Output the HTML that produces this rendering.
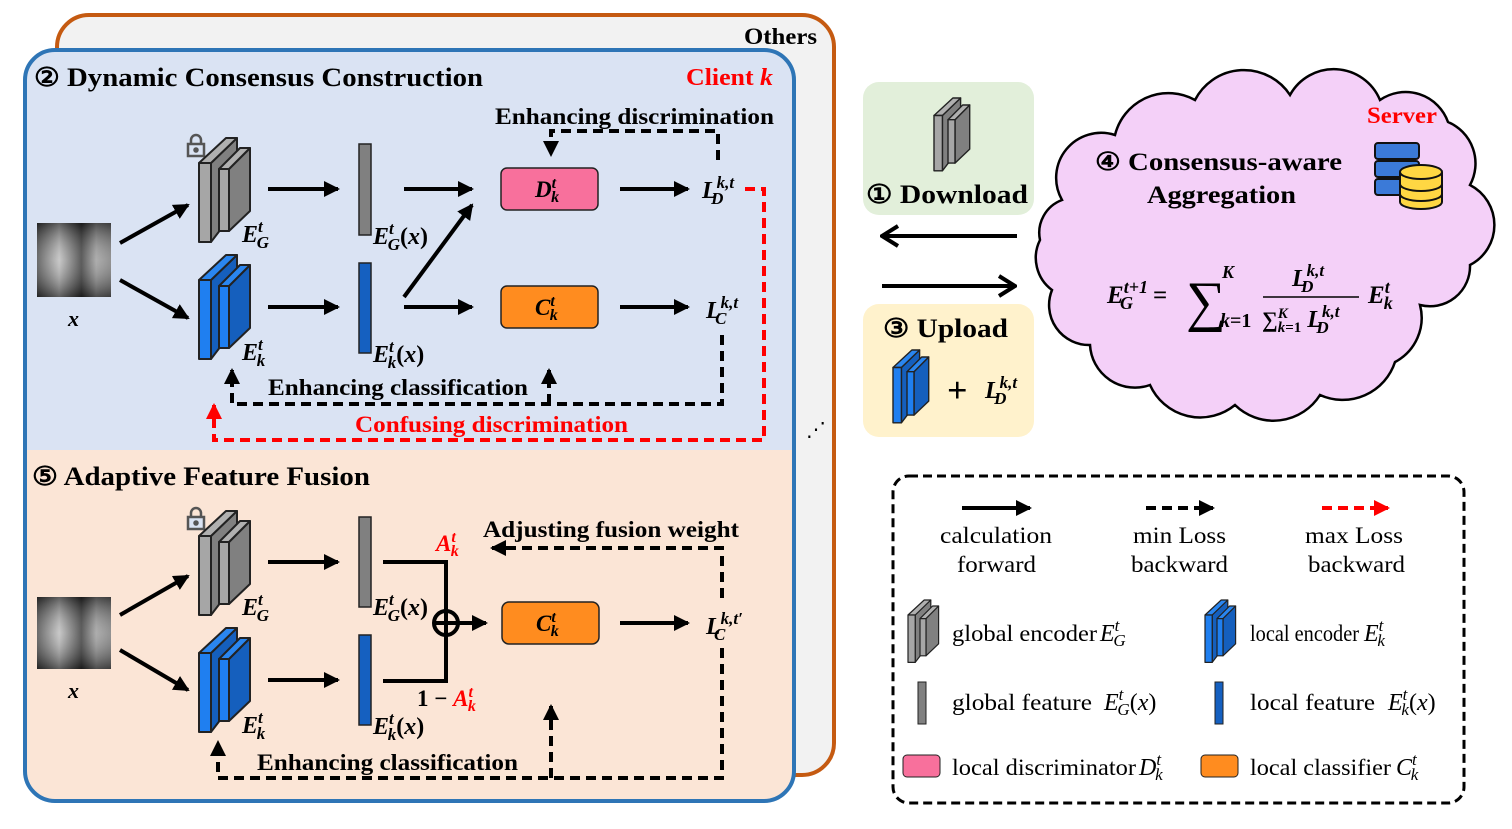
<!DOCTYPE html>
<html><head><meta charset="utf-8"><style>
html,body{margin:0;padding:0;background:#fff;}
svg{display:block;}
text{font-family:"Liberation Serif",serif;}
.b{font-weight:bold;}
.m{font-weight:bold;font-style:italic;}
</style></head><body>
<svg width="1512" height="829" viewBox="0 0 1512 829" xmlns="http://www.w3.org/2000/svg">
<defs>
<marker id="ahb" markerWidth="16" markerHeight="16" refX="14" refY="8" orient="auto" markerUnits="userSpaceOnUse"><path d="M0,0 L16,8 L0,16 Z" fill="#000"/></marker>
<marker id="ahr" markerWidth="16" markerHeight="16" refX="14" refY="8" orient="auto" markerUnits="userSpaceOnUse"><path d="M0,0 L16,8 L0,16 Z" fill="#f00"/></marker>
<marker id="chev" markerWidth="20" markerHeight="24" refX="18" refY="12" orient="auto" markerUnits="userSpaceOnUse"><path d="M2,2 L18,12 L2,22" fill="none" stroke="#000" stroke-width="4"/></marker>
<g id="encG" stroke="#222" stroke-width="2" stroke-linejoin="round">
<polygon points="12,25 38,0 38,70 12,104" fill="#808080"/>
<polygon points="0,25 27,0 38,0 12,25" fill="#b0b0b0"/>
<rect x="0" y="25" width="12" height="79" fill="#a6a6a6"/>
<polygon points="30,31 51,10 51,73 30,93" fill="#808080"/>
<polygon points="20,31 41,10 51,10 30,31" fill="#b0b0b0"/>
<rect x="20" y="31" width="10" height="62" fill="#a6a6a6"/>
</g>
<g id="encB" stroke="#222" stroke-width="2" stroke-linejoin="round">
<polygon points="12,25 38,0 38,70 12,104" fill="#155fbd"/>
<polygon points="0,25 27,0 38,0 12,25" fill="#2a86f0"/>
<rect x="0" y="25" width="12" height="79" fill="#1f7ff0"/>
<polygon points="30,31 51,10 51,73 30,93" fill="#155fbd"/>
<polygon points="20,31 41,10 51,10 30,31" fill="#2a86f0"/>
<rect x="20" y="31" width="10" height="62" fill="#1f7ff0"/>
</g>
<g id="lock" fill="none" stroke="#555" stroke-width="2.5"><path d="M4,10 V6 a5,5 0 0 1 10,0 V10"/><rect x="1" y="10" width="16" height="12" fill="#dae3f3"/><circle cx="9" cy="16" r="1.5" fill="#555"/></g>
<linearGradient id="img" x1="0" x2="1"><stop offset="0" stop-color="#444"/><stop offset=".3" stop-color="#bbb"/><stop offset=".6" stop-color="#333"/><stop offset=".8" stop-color="#999"/><stop offset="1" stop-color="#777"/></linearGradient>
<linearGradient id="imgv" x1="0" y1="0" x2="0" y2="1"><stop offset="0" stop-color="#000" stop-opacity=".5"/><stop offset=".5" stop-color="#fff" stop-opacity=".2"/><stop offset="1" stop-color="#000" stop-opacity=".5"/></linearGradient>
</defs>

<rect x="57" y="15" width="777" height="760" rx="32" fill="#f2f2f2" stroke="#c55a11" stroke-width="4"/>
<text x="744" y="44" class="b" font-size="23" textLength="73" lengthAdjust="spacingAndGlyphs">Others</text>
<text x="806" y="436" font-size="20">⋰</text>

<rect x="25" y="50" width="769" height="751" rx="30" fill="#fbe5d6"/>
<path d="M25,450 V80 a30,30 0 0 1 30,-30 H764 a30,30 0 0 1 30,30 V450 Z" fill="#dae3f3"/>
<rect x="25" y="50" width="769" height="751" rx="30" fill="none" stroke="#2e75b6" stroke-width="4"/>

<text x="34" y="86" class="b" font-size="26" textLength="449" lengthAdjust="spacingAndGlyphs">② Dynamic Consensus Construction</text>
<text x="686" y="85" class="b" font-size="24" fill="#f00" textLength="87" lengthAdjust="spacingAndGlyphs">Client <tspan font-style="italic">k</tspan></text>

<!-- top -->
<rect x="37" y="223" width="74" height="74" fill="url(#img)"/>
<rect x="37" y="223" width="74" height="74" fill="url(#imgv)"/>
<text x="68" y="326" class="m" font-size="22">x</text>
<use href="#lock" x="187" y="134"/>
<use href="#encG" x="199" y="138"/>
<use href="#encB" x="199" y="255"/>
<g stroke="#000" stroke-width="4" marker-end="url(#ahb)">
<line x1="120" y1="243" x2="188" y2="205"/>
<line x1="120" y1="280" x2="188" y2="318"/>
<line x1="268" y1="189" x2="338" y2="189"/>
<line x1="268" y1="307" x2="338" y2="307"/>
<line x1="404" y1="189" x2="472" y2="189"/>
<line x1="404" y1="297" x2="472" y2="205"/>
<line x1="404" y1="307" x2="472" y2="307"/>
<line x1="620" y1="189" x2="688" y2="189"/>
<line x1="620" y1="307" x2="688" y2="307"/>
</g>
<rect x="359" y="144" width="12" height="91" fill="#808080" stroke="#222" stroke-width="1.5"/>
<rect x="359" y="263" width="12" height="90" fill="#1560c0" stroke="#222" stroke-width="1.5"/>
<text x="242" y="242" class="m" font-size="24">E<tspan dy="-10" font-size="17">t</tspan><tspan dx="-6" dy="16" font-size="17">G</tspan></text>
<text x="242" y="360" class="m" font-size="24">E<tspan dy="-10" font-size="17">t</tspan><tspan dx="-6" dy="16" font-size="17">k</tspan></text>
<text x="373" y="244" class="m" font-size="24">E<tspan dy="-10" font-size="17">t</tspan><tspan dx="-6" dy="16" font-size="17">G</tspan><tspan dy="-6" font-style="normal">(</tspan>x<tspan font-style="normal">)</tspan></text>
<text x="373" y="362" class="m" font-size="24">E<tspan dy="-10" font-size="17">t</tspan><tspan dx="-6" dy="16" font-size="17">k</tspan><tspan dy="-6" font-style="normal">(</tspan>x<tspan font-style="normal">)</tspan></text>
<rect x="501" y="168" width="97" height="42" rx="6" fill="#f8709c" stroke="#222" stroke-width="1.5"/>
<text x="535" y="197" class="m" font-size="23">D<tspan dy="-9" font-size="16">t</tspan><tspan dx="-5" dy="14" font-size="16">k</tspan></text>
<rect x="501" y="286" width="97" height="42" rx="6" fill="#ff8c1f" stroke="#222" stroke-width="1.5"/>
<text x="535" y="315" class="m" font-size="23">C<tspan dy="-9" font-size="16">t</tspan><tspan dx="-5" dy="14" font-size="16">k</tspan></text>
<text x="702" y="198" class="m" font-size="24">L<tspan dy="-10" font-size="17">k,t</tspan><tspan dx="-23" dy="16" font-size="17">D</tspan></text>
<text x="706" y="318" class="m" font-size="24">L<tspan dy="-10" font-size="17">k,t</tspan><tspan dx="-23" dy="16" font-size="17">C</tspan></text>

<g fill="none" stroke="#000" stroke-width="4" stroke-dasharray="10,6">
<path d="M718,160 V131 H551 V155" marker-end="url(#ahb)"/>
<path d="M722,335 V404 H232 V370" marker-end="url(#ahb)"/>
<path d="M549,404 V370" marker-end="url(#ahb)"/>
</g>
<path d="M745,189 H764 V440 H214 V405" fill="none" stroke="#f00" stroke-width="4" stroke-dasharray="10,6" marker-end="url(#ahr)"/>
<text x="495" y="124" class="b" font-size="23" textLength="279" lengthAdjust="spacingAndGlyphs">Enhancing discrimination</text>
<text x="268" y="395" class="b" font-size="23" textLength="260" lengthAdjust="spacingAndGlyphs">Enhancing classification</text>
<text x="355" y="432" class="b" font-size="23" fill="#f00" textLength="273" lengthAdjust="spacingAndGlyphs">Confusing discrimination</text>

<!-- bottom -->
<text x="32" y="485" class="b" font-size="26" textLength="338" lengthAdjust="spacingAndGlyphs">⑤ Adaptive Feature Fusion</text>
<rect x="37" y="597" width="74" height="72" fill="url(#img)"/>
<rect x="37" y="597" width="74" height="72" fill="url(#imgv)"/>
<text x="68" y="698" class="m" font-size="22">x</text>
<use href="#lock" x="187" y="507"/>
<use href="#encG" x="199" y="511"/>
<use href="#encB" x="199" y="628"/>
<g stroke="#000" stroke-width="4" marker-end="url(#ahb)">
<line x1="120" y1="615" x2="188" y2="576"/>
<line x1="120" y1="650" x2="188" y2="690"/>
<line x1="268" y1="562" x2="338" y2="562"/>
<line x1="268" y1="680" x2="338" y2="680"/>
<line x1="458" y1="623" x2="486" y2="623"/>
<line x1="620" y1="623" x2="688" y2="623"/>
</g>
<rect x="359" y="517" width="12" height="90" fill="#808080" stroke="#222" stroke-width="1.5"/>
<rect x="359" y="635" width="12" height="90" fill="#1560c0" stroke="#222" stroke-width="1.5"/>
<text x="242" y="615" class="m" font-size="24">E<tspan dy="-10" font-size="17">t</tspan><tspan dx="-6" dy="16" font-size="17">G</tspan></text>
<text x="242" y="733" class="m" font-size="24">E<tspan dy="-10" font-size="17">t</tspan><tspan dx="-6" dy="16" font-size="17">k</tspan></text>
<text x="373" y="615" class="m" font-size="24">E<tspan dy="-10" font-size="17">t</tspan><tspan dx="-6" dy="16" font-size="17">G</tspan><tspan dy="-6" font-style="normal">(</tspan>x<tspan font-style="normal">)</tspan></text>
<text x="373" y="734" class="m" font-size="24">E<tspan dy="-10" font-size="17">t</tspan><tspan dx="-6" dy="16" font-size="17">k</tspan><tspan dy="-6" font-style="normal">(</tspan>x<tspan font-style="normal">)</tspan></text>
<path d="M383,562 H446 V681 H383" fill="none" stroke="#000" stroke-width="4"/>
<circle cx="446" cy="623" r="12" fill="none" stroke="#000" stroke-width="4"/>
<line x1="434" y1="623" x2="458" y2="623" stroke="#000" stroke-width="4"/>
<text x="436" y="551" class="m" font-size="23" fill="#f00">A<tspan dy="-9" font-size="16">t</tspan><tspan dx="-5" dy="14" font-size="16">k</tspan></text>
<text x="417" y="706" class="b" font-size="23">1 − <tspan font-style="italic" fill="#f00">A</tspan><tspan dy="-9" font-size="16" font-style="italic" fill="#f00">t</tspan><tspan dx="-5" dy="14" font-size="16" font-style="italic" fill="#f00">k</tspan></text>
<rect x="502" y="602" width="97" height="42" rx="7" fill="#ff8c1f" stroke="#222" stroke-width="1.5"/>
<text x="536" y="631" class="m" font-size="23">C<tspan dy="-9" font-size="16">t</tspan><tspan dx="-5" dy="14" font-size="16">k</tspan></text>
<text x="706" y="634" class="m" font-size="24">L<tspan dy="-10" font-size="17">k,t′</tspan><tspan dx="-29" dy="16" font-size="17">C</tspan></text>
<g fill="none" stroke="#000" stroke-width="4" stroke-dasharray="10,6">
<path d="M722,598 V548 H492" marker-end="url(#ahb)"/>
<path d="M722,648 V778 H218 V742" marker-end="url(#ahb)"/>
<path d="M551,778 V706" marker-end="url(#ahb)"/>
</g>
<text x="483" y="537" class="b" font-size="23" textLength="256" lengthAdjust="spacingAndGlyphs">Adjusting fusion weight</text>
<text x="257" y="770" class="b" font-size="23" textLength="261" lengthAdjust="spacingAndGlyphs">Enhancing classification</text>

<!-- download / upload -->
<rect x="863" y="82" width="171" height="133" rx="16" fill="#e2efda"/>
<use href="#encG" transform="translate(934,98) scale(0.7)"/>
<text x="866" y="203" class="b" font-size="26" textLength="162" lengthAdjust="spacingAndGlyphs">① Download</text>
<line x1="1017" y1="236" x2="882" y2="236" stroke="#000" stroke-width="4" marker-end="url(#chev)"/>
<line x1="882" y1="286" x2="1015" y2="286" stroke="#000" stroke-width="4" marker-end="url(#chev)"/>
<rect x="863" y="304" width="171" height="133" rx="16" fill="#fff2cc"/>
<text x="883" y="337" class="b" font-size="26" textLength="125" lengthAdjust="spacingAndGlyphs">③ Upload</text>
<use href="#encB" transform="translate(893,350) scale(0.7)"/>
<text x="947" y="402" class="b" font-size="36">+</text>
<text x="985" y="398" class="m" font-size="24">L<tspan dy="-10" font-size="17">k,t</tspan><tspan dx="-23" dy="16" font-size="17">D</tspan></text>

<!-- cloud -->
<path d="M1062,200 A45,45 0 0 1 1115,135 A55,55 0 0 1 1195,100 A55,55 0 0 1 1290,95 A50,50 0 0 1 1380,100 A45,45 0 0 1 1448,122 A45,45 0 0 1 1470,185 A45,45 0 0 1 1470,265 A40,40 0 0 1 1420,305 A50,50 0 0 1 1395,362 A55,55 0 0 1 1320,395 A55,55 0 0 1 1235,405 A55,55 0 0 1 1150,385 A45,45 0 0 1 1090,345 A40,40 0 0 1 1052,290 A40,40 0 0 1 1040,240 A35,35 0 0 1 1062,200 Z" fill="#f4d0f8" stroke="#000" stroke-width="2.5"/>
<text x="1367" y="123" class="b" font-size="23" fill="#f00" textLength="70" lengthAdjust="spacingAndGlyphs">Server</text>
<text x="1095" y="170" class="b" font-size="25" textLength="247" lengthAdjust="spacingAndGlyphs">④ Consensus-aware</text>
<text x="1147" y="203" class="b" font-size="25" textLength="149" lengthAdjust="spacingAndGlyphs">Aggregation</text>
<g stroke="#111" stroke-width="2">
<rect x="1375" y="143" width="44" height="16" rx="3" fill="#3b7ad8"/>
<rect x="1375" y="161" width="44" height="16" rx="3" fill="#3b7ad8"/>
<rect x="1375" y="179" width="44" height="16" rx="3" fill="#3b7ad8"/>
<path d="M1400,172 v30 a21,7 0 0 0 42,0 v-30" fill="#ffd743"/>
<ellipse cx="1421" cy="172" rx="21" ry="7" fill="#ffd743"/>
<path d="M1400,184 a21,7 0 0 0 42,0 M1400,194 a21,7 0 0 0 42,0" fill="none"/>
</g>
<text x="1107" y="303" class="m" font-size="25">E<tspan dy="-10" font-size="18">t+1</tspan><tspan dx="-28" dy="16" font-size="18">G</tspan><tspan dx="20" dy="-6" font-style="normal">=</tspan></text>
<text x="1186" y="320" font-size="56">∑</text>
<text x="1222" y="278" class="m" font-size="18">K</text>
<text x="1220" y="327" class="b" font-size="20"><tspan font-style="italic">k</tspan>=1</text>
<text x="1292" y="286" class="m" font-size="24">L<tspan dy="-10" font-size="17">k,t</tspan><tspan dx="-23" dy="16" font-size="17">D</tspan></text>
<line x1="1263" y1="297" x2="1359" y2="297" stroke="#000" stroke-width="1.5"/>
<text x="1262" y="327" class="b" font-size="22">∑<tspan dy="-9" font-size="15" font-style="italic">K</tspan><tspan dx="-10" dy="14" font-size="15"><tspan font-style="italic">k</tspan>=1</tspan><tspan dy="-5" font-style="italic" font-size="24"> L</tspan><tspan dy="-10" font-size="17" font-style="italic">k,t</tspan><tspan dx="-23" dy="16" font-size="17" font-style="italic">D</tspan></text>
<text x="1368" y="303" class="m" font-size="25">E<tspan dy="-10" font-size="18">t</tspan><tspan dx="-6" dy="16" font-size="18">k</tspan></text>

<!-- legend -->
<rect x="893" y="476" width="571" height="327" rx="16" fill="#fff" stroke="#000" stroke-width="3" stroke-dasharray="9,5"/>
<line x1="962" y1="508" x2="1030" y2="508" stroke="#000" stroke-width="4" marker-end="url(#ahb)"/>
<line x1="1146" y1="508" x2="1213" y2="508" stroke="#000" stroke-width="4" stroke-dasharray="10,6" marker-end="url(#ahb)"/>
<line x1="1322" y1="508" x2="1388" y2="508" stroke="#f00" stroke-width="4" stroke-dasharray="10,6" marker-end="url(#ahr)"/>
<g font-size="23" lengthAdjust="spacingAndGlyphs">
<text x="940" y="543" textLength="112" lengthAdjust="spacingAndGlyphs">calculation</text><text x="957" y="572" textLength="79" lengthAdjust="spacingAndGlyphs">forward</text>
<text x="1133" y="543" textLength="93" lengthAdjust="spacingAndGlyphs">min Loss</text><text x="1131" y="572" textLength="97" lengthAdjust="spacingAndGlyphs">backward</text>
<text x="1305" y="543" textLength="98" lengthAdjust="spacingAndGlyphs">max Loss</text><text x="1308" y="572" textLength="97" lengthAdjust="spacingAndGlyphs">backward</text>
</g>
<use href="#encG" transform="translate(908,600) scale(0.6)"/>
<use href="#encB" transform="translate(1205,600) scale(0.6)"/>
<rect x="918" y="682" width="8" height="42" fill="#808080" stroke="#222"/>
<rect x="1215" y="682" width="8" height="42" fill="#1560c0" stroke="#222"/>
<rect x="903" y="755" width="37" height="22" rx="4" fill="#f8709c" stroke="#222"/>
<rect x="1201" y="755" width="37" height="22" rx="4" fill="#ff8c1f" stroke="#222"/>
<g font-size="23">
<text x="952" y="641" textLength="145" lengthAdjust="spacingAndGlyphs">global encoder</text>
<text x="1100" y="641" font-style="italic" font-size="24">E<tspan dy="-10" font-size="17">t</tspan><tspan dx="-6" dy="15" font-size="17">G</tspan></text>
<text x="1250" y="641" textLength="109" lengthAdjust="spacingAndGlyphs">local encoder</text>
<text x="1364" y="641" font-style="italic" font-size="24">E<tspan dy="-10" font-size="17">t</tspan><tspan dx="-6" dy="15" font-size="17">k</tspan></text>
<text x="952" y="710" textLength="140" lengthAdjust="spacingAndGlyphs">global feature</text>
<text x="1104" y="710" font-size="24"><tspan font-style="italic">E</tspan><tspan dy="-10" font-size="17" font-style="italic">t</tspan><tspan dx="-6" dy="15" font-size="17" font-style="italic">G</tspan><tspan dy="-5">(</tspan><tspan font-style="italic">x</tspan>)</text>
<text x="1250" y="710" textLength="125" lengthAdjust="spacingAndGlyphs">local feature</text>
<text x="1388" y="710" font-size="24"><tspan font-style="italic">E</tspan><tspan dy="-10" font-size="17" font-style="italic">t</tspan><tspan dx="-6" dy="15" font-size="17" font-style="italic">k</tspan><tspan dy="-5">(</tspan><tspan font-style="italic">x</tspan>)</text>
<text x="952" y="775" textLength="184" lengthAdjust="spacingAndGlyphs">local discriminator</text>
<text x="1139" y="775" font-style="italic" font-size="24">D<tspan dy="-10" font-size="17">t</tspan><tspan dx="-6" dy="15" font-size="17">k</tspan></text>
<text x="1250" y="775" textLength="141" lengthAdjust="spacingAndGlyphs">local classifier</text>
<text x="1396" y="775" font-style="italic" font-size="24">C<tspan dy="-10" font-size="17">t</tspan><tspan dx="-6" dy="15" font-size="17">k</tspan></text>
</g>
</svg>
</body></html>
